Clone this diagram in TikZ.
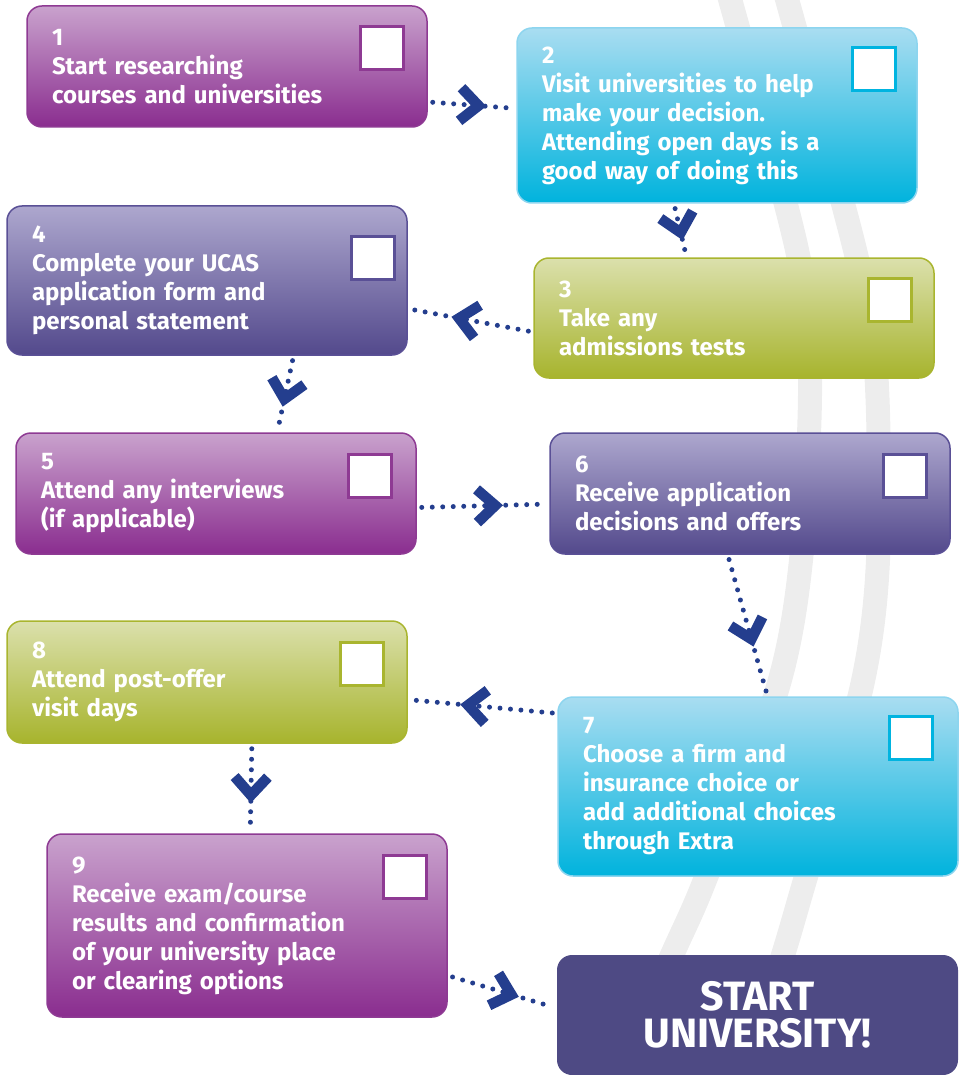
\documentclass[tikz,border=0pt]{standalone}
\usepackage{fontspec}
\setmainfont{Fira Sans}
\usepackage{tikz}
\usetikzlibrary{shapes,decorations.markings}
\definecolor{purpletop}{HTML}{C9A2CD}
\definecolor{purplebot}{HTML}{8A2D8F}
\definecolor{purpleline}{HTML}{8E3A93}
\definecolor{cyantop}{HTML}{A9DDF1}
\definecolor{cyanbot}{HTML}{00B3DD}
\definecolor{cyanline}{HTML}{00B4E0}
\definecolor{cyanedge}{HTML}{8DD5EF}
\definecolor{olivetop}{HTML}{DBE0AC}
\definecolor{olivebot}{HTML}{A7B42D}
\definecolor{oliveline}{HTML}{A9B52F}
\definecolor{indigotop}{HTML}{ADA7CE}
\definecolor{indigobot}{HTML}{53498C}
\definecolor{indigoline}{HTML}{5A5096}
\definecolor{startfill}{HTML}{4E4A84}
\definecolor{flowblue}{HTML}{243E8E}
\definecolor{bandgrey}{HTML}{EDEDED}
\tikzstyle{stage} = [rectangle, rounded corners=15pt, line width=1.5pt, minimum width=400pt, text width=350pt, inner xsep=25pt, inner ysep=0pt, align=left, text=white, font=\fontsize{24}{29}\selectfont\bfseries]
\tikzstyle{purplestage} = [stage, draw=purpleline, top color=purpletop, bottom color=purplebot]
\tikzstyle{cyanstage} = [stage, draw=cyanedge, top color=cyantop, bottom color=cyanbot]
\tikzstyle{olivestage} = [stage, draw=oliveline, top color=olivetop, bottom color=olivebot]
\tikzstyle{indigostage} = [stage, draw=indigoline, top color=indigotop, bottom color=indigobot]
\tikzstyle{startstage} = [stage, fill=startfill, minimum width=401pt, align=center, font=\fontsize{41}{37}\selectfont\bfseries]
\tikzstyle{tickbox} = [rectangle, fill=white, line width=2.5pt, minimum size=43pt, inner sep=0pt, anchor=north east]
\tikzstyle{band} = [draw=bandgrey, line width=24pt]
\tikzstyle{flow} = [draw=flowblue, line width=5pt, line cap=round, dash pattern=on 0pt off 10.5pt, shorten <=5pt, shorten >=5pt, postaction={decorate}, decoration={markings, mark=at position 0.63 with {\draw[draw=flowblue, solid, line width=10.5pt, line cap=butt, line join=miter] (-27pt,20pt) -- (-5pt,0pt) -- (-27pt,-20pt);}}]

\begin{document}
\begin{tikzpicture}[x=1pt, y=-1pt]
    \useasboundingbox (0,0) rectangle (961,1075);
    \begin{scope}
        \clip (0,0) rectangle (961,1075);
        \draw[band] plot[smooth] coordinates {(726,-15) (797,250) (810,380) (801,560) (777,690) (705,880) (672,955) (612,1090)};
        \draw[band] plot[smooth] coordinates {(783,-15) (855,250) (876,370) (878,560) (861,690) (805,880) (783,955) (740,1090)};
    \end{scope}

    \node (Research) [purplestage, minimum height=121pt] at (227,66.5) {1\\Start researching\\courses and universities};
    \node (Visit) [cyanstage, minimum height=175pt] at (717,115.5) {2\\Visit universities to help\\make your decision.\\Attending open days is a\\good way of doing this};
    \node (Tests) [olivestage, minimum height=120pt] at (734,318) {3\\Take any\\admissions tests};
    \node (Ucas) [indigostage, minimum height=149pt] at (207,280.5) {4\\Complete your UCAS\\application form and\\personal statement};
    \node (Interview) [purplestage, minimum height=121pt] at (216,493.5) {5\\Attend any interviews\\(if applicable)};
    \node (Decision) [indigostage, minimum height=121pt] at (750,493.5) {6\\Receive application\\decisions and offers};
    \node (Choice) [cyanstage, minimum height=179pt] at (758,786.5) {7\\Choose a firm and\\insurance choice or\\add additional choices\\through Extra};
    \node (PostOffer) [olivestage, minimum height=122pt] at (207,682) {8\\Attend post-offer\\visit days};
    \node (Results) [purplestage, minimum height=183pt] at (247,925.5) {9\\Receive exam/course\\results and confirmation\\of your university place\\or clearing options};
    \node (Start) [startstage, minimum height=120pt] at (757.5,1015) {START\\UNIVERSITY!};

    \node (ResearchT) [tickbox, draw=purpleline] at ([xshift=-23pt, yshift=-20pt]Research.north east) {};
    \node (VisitT) [tickbox, draw=cyanline] at ([xshift=-21pt, yshift=-19pt]Visit.north east) {};
    \node (TestsT) [tickbox, draw=oliveline] at ([xshift=-22pt, yshift=-20pt]Tests.north east) {};
    \node (UcasT) [tickbox, draw=indigoline] at ([xshift=-12pt, yshift=-30pt]Ucas.north east) {};
    \node (InterviewT) [tickbox, draw=purpleline] at ([xshift=-24pt, yshift=-21pt]Interview.north east) {};
    \node (DecisionT) [tickbox, draw=indigoline] at ([xshift=-23pt, yshift=-21pt]Decision.north east) {};
    \node (ChoiceT) [tickbox, draw=cyanline] at ([xshift=-25pt, yshift=-19pt]Choice.north east) {};
    \node (PostOfferT) [tickbox, draw=oliveline] at ([xshift=-23pt, yshift=-21pt]PostOffer.north east) {};
    \node (ResultsT) [tickbox, draw=purpleline] at ([xshift=-20pt, yshift=-21pt]Results.north east) {};

    \draw[flow] (Research.-10) -- (Visit.178);
    \draw[flow] (Visit.-116) -- (Tests.128);
    \draw[flow] (Tests.184) -- (Ucas.-8);
    \draw[flow] (Ucas.-41) -- (Interview.45);
    \draw[flow] (Interview.-4) -- (Decision.183);
    \draw[flow] (Decision.-110) -- (Choice.84);
    \draw[flow] (Choice.160) -- (PostOffer.-5);
    \draw[flow] (PostOffer.-54) -- (Results.88);
    \draw[flow] (Results.-14) -- (Start.178);
\end{tikzpicture}
\end{document}
